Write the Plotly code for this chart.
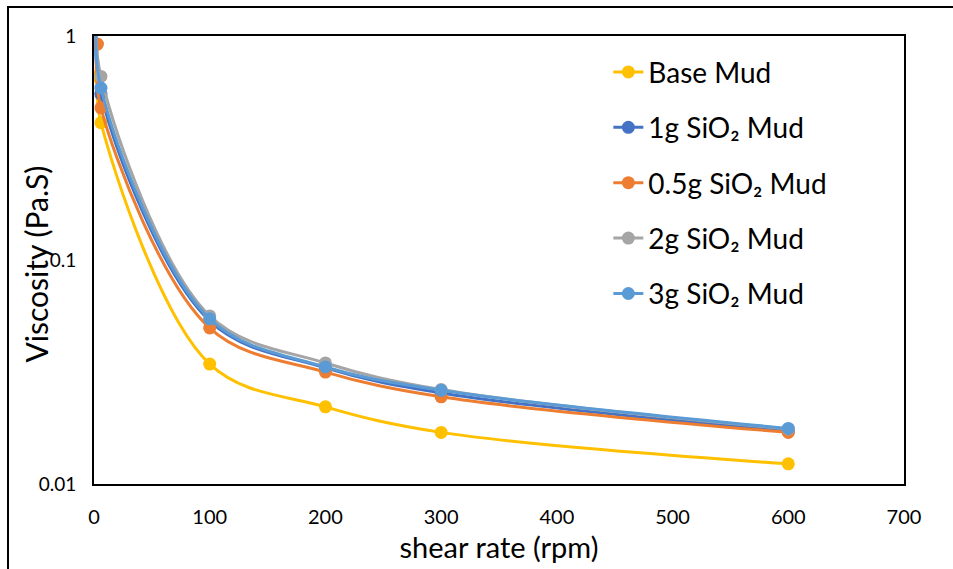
import plotly.graph_objects as go

shear_rate = [3, 6, 100, 200, 300, 600]
base_mud = [0.66, 0.41, 0.0343, 0.0221, 0.0170, 0.0123]
sio2_1g = [1.3, 0.55, 0.0535, 0.0330, 0.0255, 0.0172]
sio2_05g = [0.92, 0.478, 0.0497, 0.0316, 0.0245, 0.0170]
sio2_2g = [1.4, 0.66, 0.0563, 0.0347, 0.0264, 0.0176]
sio2_3g = [1.3, 0.586, 0.0546, 0.0333, 0.0262, 0.0177]

series = [
    ("Base Mud", base_mud, "#FFC000"),
    ("1g SiO₂ Mud", sio2_1g, "#4472C4"),
    ("0.5g SiO₂ Mud", sio2_05g, "#ED7D31"),
    ("2g SiO₂ Mud", sio2_2g, "#A5A5A5"),
    ("3g SiO₂ Mud", sio2_3g, "#5B9BD5"),
]

y_ticks = [0.01, 0.1, 1]
y_ticktext = ["0.01", "0.1", "1"]
x_ticks = [0, 100, 200, 300, 400, 500, 600, 700]

fig = go.Figure()
for i, (name, vals, color) in enumerate(series):
    fig.add_trace(go.Scatter(
        x=shear_rate, y=vals, name=name, mode="lines+markers",
        line=dict(color=color, width=3, shape="spline", smoothing=1.0),
        marker=dict(color=color, size=13),
        legendgroup=f"g{i}",
    ))

FONT = "Lato, Open Sans, sans-serif"

fig.update_layout(
    width=953, height=569,
    margin=dict(l=94, r=49, t=36, b=85),
    paper_bgcolor="white", plot_bgcolor="white",
    font=dict(family=FONT, color="black"),
    showlegend=True,
    legend=dict(
        x=0.635, y=0.975, xanchor="left", yanchor="top",
        font=dict(size=28, family=FONT, color="black"),
        tracegroupgap=16, bgcolor="rgba(0,0,0,0)",
    ),
    xaxis=dict(
        range=[0, 700], tickvals=x_ticks, ticks="", automargin=False,
        showgrid=False, zeroline=False,
        showline=True, linecolor="black", linewidth=2, mirror=True,
        tickfont=dict(size=20, family=FONT, color="black"),
        ticklabelstandoff=14,
        title=dict(text="shear rate (rpm)", font=dict(size=29, family=FONT, color="black"), standoff=11),
    ),
    yaxis=dict(
        type="log", range=[-2, 0], tickvals=y_ticks, ticktext=y_ticktext, ticks="",
        automargin=False,
        showgrid=False, zeroline=False,
        showline=True, linecolor="black", linewidth=2, mirror=True,
        tickfont=dict(size=19, family=FONT, color="black"),
        ticklabelstandoff=12,
    ),
    annotations=[dict(
        text="Viscosity (Pa.S)", textangle=-90, showarrow=False,
        xref="paper", yref="paper", x=(36 - 94) / 810, y=0.49,
        xanchor="center", yanchor="middle",
        font=dict(size=30, family=FONT, color="black"),
    )],
    shapes=[dict(
        type="rect", xref="paper", yref="paper",
        x0=(8 - 94) / 810, x1=(960 - 94) / 810,
        y0=(484 - 580) / 448, y1=(484 - 7) / 448,
        line=dict(color="black", width=2), fillcolor="rgba(0,0,0,0)", layer="below",
    )],
)

fig.write_html("out.html")
